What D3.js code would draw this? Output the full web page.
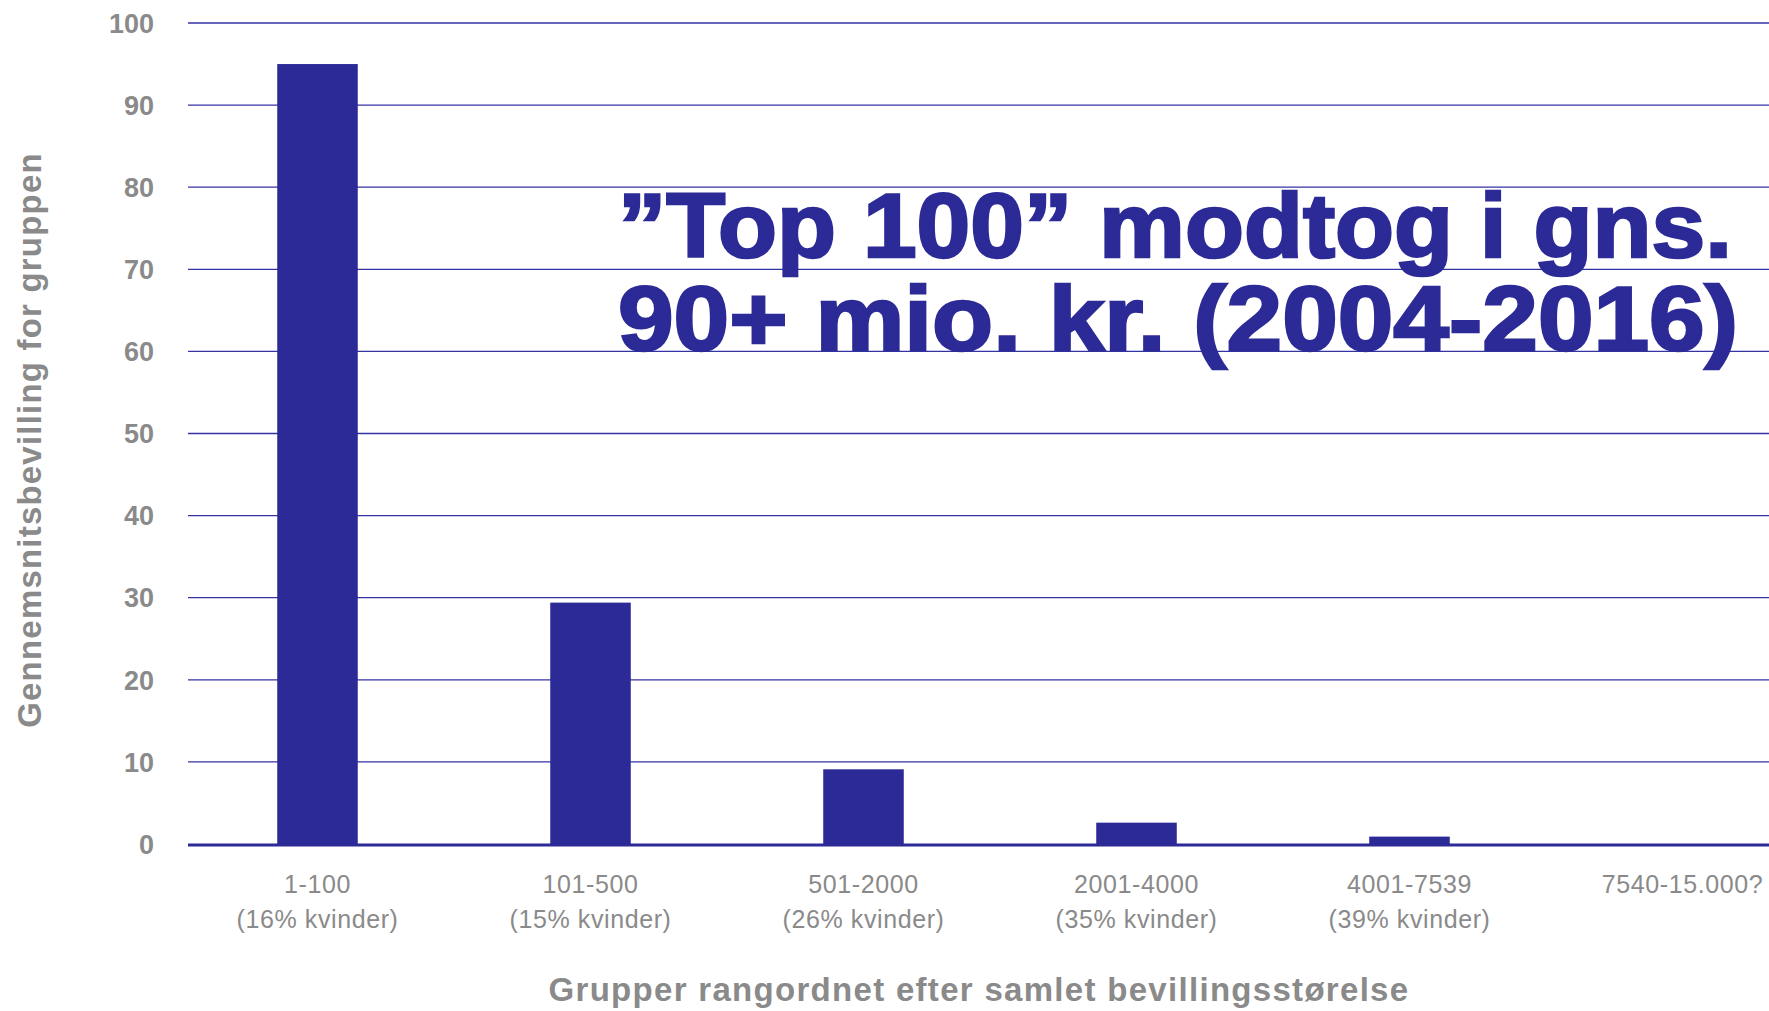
<!DOCTYPE html>
<html lang="da">
<head>
<meta charset="utf-8">
<title>Top 100</title>
<script src="https://cdn.jsdelivr.net/npm/d3@7"></script>
<style>
  body { margin: 0; background: #fff; }
  svg text { font-family: "Liberation Sans", Arial, sans-serif; }
</style>
</head>
<body>
<script>
// data
var groups = ["1-100", "101-500", "501-2000", "2001-4000", "4001-7539", "7540-15.000?"];
var shares = ["(16% kvinder)", "(15% kvinder)", "(26% kvinder)", "(35% kvinder)", "(39% kvinder)", ""];
var averages = [95, 29.4, 9.1, 2.6, 0.9, 0];
var yTicks = [0, 10, 20, 30, 40, 50, 60, 70, 80, 90, 100];
var yTitle = "Gennemsnitsbevilling for gruppen";
var xTitle = "Grupper rangordnet efter samlet bevillingsstørelse";
var note = ["\u201DTop 100\u201D modtog i gns.", "90+ mio. kr. (2004-2016)"];
var noteWidths = [1114, 1120];

var w = 1769, h = 1011;
var blue = "#2b2a96", grey = "#8a8a8a";

var svg = d3.select("body").append("svg")
  .attr("width", w)
  .attr("height", h);

var x = d3.scaleBand()
  .domain(groups)
  .range([181, 1819])
  .paddingInner(0.705)
  .paddingOuter(0.3525);

var y = d3.scaleLinear()
  .domain([0, 100])
  .range([844, 23]);

// gridlines
svg.selectAll("line.grid").data(yTicks.filter(function(d) { return d > 0; }))
  .enter().append("line")
  .attr("class", "grid")
  .attr("x1", 188).attr("x2", w)
  .attr("y1", function(d) { return y(d); })
  .attr("y2", function(d) { return y(d); })
  .attr("stroke", "#3433a3")
  .attr("stroke-width", 1.3);

// y tick labels
svg.selectAll("text.ytick").data(yTicks)
  .enter().append("text")
  .attr("class", "ytick")
  .attr("x", 154)
  .attr("y", function(d) { return y(d); })
  .attr("dy", "0.36em")
  .attr("text-anchor", "end")
  .attr("font-size", "27px")
  .attr("font-weight", "bold")
  .attr("fill", grey)
  .text(function(d) { return d; });

// big annotation
svg.append("g").selectAll("text").data(note)
  .enter().append("text")
  .attr("x", 618)
  .attr("y", function(d, i) { return 257 + i * 93; })
  .attr("font-size", "90px")
  .attr("font-weight", "bold")
  .attr("fill", blue)
  .attr("stroke", blue)
  .attr("stroke-width", 2.5)
  .attr("textLength", function(d, i) { return noteWidths[i]; })
  .attr("lengthAdjust", "spacingAndGlyphs")
  .text(function(d) { return d; });

// bars
svg.selectAll("rect.bar").data(averages)
  .enter().append("rect")
  .attr("class", "bar")
  .attr("x", function(d, i) { return x(groups[i]); })
  .attr("y", function(d) { return y(d); })
  .attr("width", x.bandwidth())
  .attr("height", function(d) { return y(0) - y(d); })
  .attr("fill", blue);

// baseline
svg.append("line")
  .attr("x1", 188).attr("x2", w)
  .attr("y1", y(0) + 1).attr("y2", y(0) + 1)
  .attr("stroke", blue)
  .attr("stroke-width", 3);

// x labels
var xl = svg.selectAll("g.xlab").data(groups)
  .enter().append("g")
  .attr("class", "xlab")
  .attr("transform", function(d) { return "translate(" + (x(d) + x.bandwidth() / 2) + ",0)"; });

xl.append("text")
  .attr("y", 893)
  .attr("text-anchor", "middle")
  .attr("font-size", "25px")
  .attr("letter-spacing", "0.6px")
  .attr("fill", grey)
  .text(function(d) { return d; });

xl.append("text")
  .attr("y", 928)
  .attr("text-anchor", "middle")
  .attr("font-size", "25px")
  .attr("letter-spacing", "0.6px")
  .attr("fill", grey)
  .text(function(d, i) { return shares[i]; });

// axis titles
svg.append("text")
  .attr("transform", "translate(41,440) rotate(-90)")
  .attr("text-anchor", "middle")
  .attr("font-size", "33px")
  .attr("font-weight", "bold")
  .attr("letter-spacing", "1.2px")
  .attr("fill", grey)
  .text(yTitle);

svg.append("text")
  .attr("x", 979)
  .attr("y", 1001)
  .attr("text-anchor", "middle")
  .attr("font-size", "33px")
  .attr("font-weight", "bold")
  .attr("letter-spacing", "1.3px")
  .attr("fill", grey)
  .text(xTitle);
</script>
</body>
</html>
